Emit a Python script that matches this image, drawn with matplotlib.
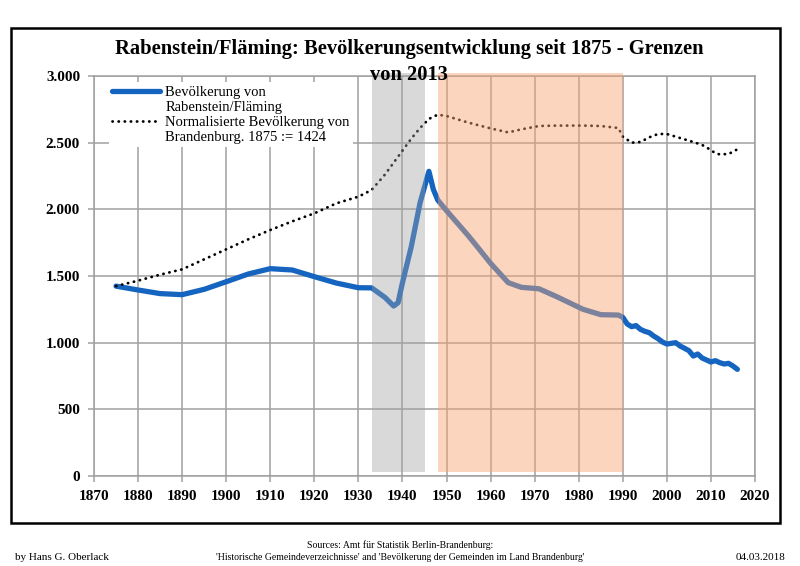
import numpy as np
import matplotlib
matplotlib.use('Agg')
import matplotlib.pyplot as plt
from matplotlib.patches import Rectangle
from matplotlib.lines import Line2D
from matplotlib.ticker import FuncFormatter

# population of Rabenstein/Flaeming
years_pop = [1875, 1880, 1885, 1890, 1895, 1900, 1905, 1910, 1915, 1920, 1925, 1930,
             1933, 1936, 1938, 1939, 1940, 1942, 1944, 1946, 1947, 1948, 1950, 1955,
             1960, 1964, 1967, 1971, 1975, 1981, 1985, 1989, 1990, 1991, 1992, 1993,
             1994, 1995, 1996, 1997, 1998, 1999, 2000, 2001, 2002, 2003, 2004, 2005,
             2006, 2007, 2008, 2009, 2010, 2011, 2012, 2013, 2014, 2015, 2016]
pop = [1424, 1395, 1368, 1360, 1400, 1457, 1515, 1555, 1545, 1495, 1447, 1412,
       1411, 1340, 1275, 1300, 1450, 1720, 2050, 2285, 2150, 2070, 1990, 1800,
       1595, 1450, 1415, 1404, 1345, 1250, 1210, 1207, 1190, 1140, 1120, 1128,
       1100, 1085, 1075, 1050, 1030, 1005, 990, 995, 1000, 975, 958, 940,
       900, 915, 885, 870, 855, 865, 850, 840, 845, 825, 800]

# normalised population of Brandenburg, 1875 := 1424
years_bb = [1875, 1880, 1885, 1890, 1895, 1900, 1905, 1910, 1915, 1920, 1925, 1930,
            1933, 1936, 1939, 1942, 1944, 1946, 1948, 1950, 1955, 1960, 1964, 1967,
            1971, 1975, 1981, 1985, 1989, 1990, 1992, 1994, 1996, 1998, 2000, 2002,
            2004, 2006, 2008, 2010, 2011, 2012, 2014, 2016]
bb = [1424, 1465, 1510, 1550, 1625, 1700, 1775, 1845, 1910, 1970, 2045, 2095,
      2145, 2260, 2395, 2530, 2610, 2678, 2710, 2700, 2650, 2607, 2577, 2600,
      2625, 2628, 2628, 2625, 2610, 2545, 2500, 2505, 2540, 2565, 2565, 2545,
      2525, 2505, 2483, 2445, 2420, 2412, 2415, 2450]

# shaded periods
nazi_period = (1933, 1945)
gdr_period = (1948, 1990)

serif = ['Liberation Serif', 'DejaVu Serif']

fig = plt.figure(figsize=(8, 5.66), dpi=100)
fig.patches.append(Rectangle((11/800, 1-523/566), 769/800, 495/566, transform=fig.transFigure,
                             fill=False, edgecolor='black', linewidth=1.8))

ax = fig.add_axes([94/800, 1-476/566, 661/800, 400/566])

line1, = ax.plot(years_pop, pop, color='#1565c0', linewidth=3.8, solid_capstyle='round',
                 solid_joinstyle='round', zorder=3)
line2, = ax.plot(years_bb, bb, color='black', linewidth=2.0, linestyle=(0, (0.1, 2.1)),
                 dash_capstyle='round', zorder=3)

ax.axvspan(*nazi_period, ymin=0.01, ymax=1.008, color='#a0a0a0', alpha=0.4, lw=0,
           zorder=4, clip_on=False)
ax.axvspan(*gdr_period, ymin=0.01, ymax=1.008, color='#f8a472', alpha=0.46, lw=0,
           zorder=4, clip_on=False)

ax.set_xlim(1870, 2020)
ax.set_ylim(0, 3000)
ax.set_xticks(range(1870, 2021, 10))
ax.set_yticks(range(0, 3001, 500))
ax.yaxis.set_major_formatter(FuncFormatter(lambda v, p: f'{int(v):,}'.replace(',', '.')))
ax.grid(True, color='#a0a0a0', linewidth=1.1, zorder=0)
ax.set_axisbelow(True)
for s in ax.spines.values():
    s.set_color('#a0a0a0')
    s.set_linewidth(1.1)
ax.tick_params(axis='both', color='#a0a0a0', width=1.1, length=4, pad=6)
for lab in ax.get_xticklabels() + ax.get_yticklabels():
    lab.set_family(serif)
    lab.set_fontweight('bold')
    lab.set_fontsize(11)

# legend: handle next to the first line of each two-line label
blank = Line2D([], [], linestyle='none')
leg = ax.legend([line1, blank, line2, blank],
                ['Bevölkerung von', 'Rabenstein/Fläming',
                 'Normalisierte Bevölkerung von', 'Brandenburg. 1875 := 1424'],
                loc='upper left', bbox_to_anchor=(0.022, 0.985), frameon=True,
                prop={'family': serif, 'size': 10.5}, handlelength=3.3, handletextpad=0.35,
                borderpad=0.25, labelspacing=0.12, borderaxespad=0)
leg.get_frame().set_edgecolor('none')
leg.get_frame().set_facecolor('white')
leg.get_frame().set_alpha(1)
leg.set_zorder(5)

fig.text(0.511, 1-62/566, 'Rabenstein/Fläming: Bevölkerungsentwicklung seit 1875 - Grenzen\nvon 2013',
         ha='center', va='center', family=serif, fontweight='bold', fontsize=14.8,
         linespacing=1.35, zorder=10)

fig.text(15/800, 1-557/566, 'by Hans G. Oberlack', ha='left', va='center', family=serif, fontsize=8)
fig.text(0.5, 1-551/566, 'Sources: Amt für Statistik Berlin-Brandenburg:\n'
         "'Historische Gemeindeverzeichnisse' and 'Bevölkerung der Gemeinden im Land Brandenburg'",
         ha='center', va='center', family=serif, fontsize=7, linespacing=1.5)
fig.text(785/800, 1-557/566, '04.03.2018', ha='right', va='center', family=serif, fontsize=8)

fig.savefig('out.png', dpi=100)
